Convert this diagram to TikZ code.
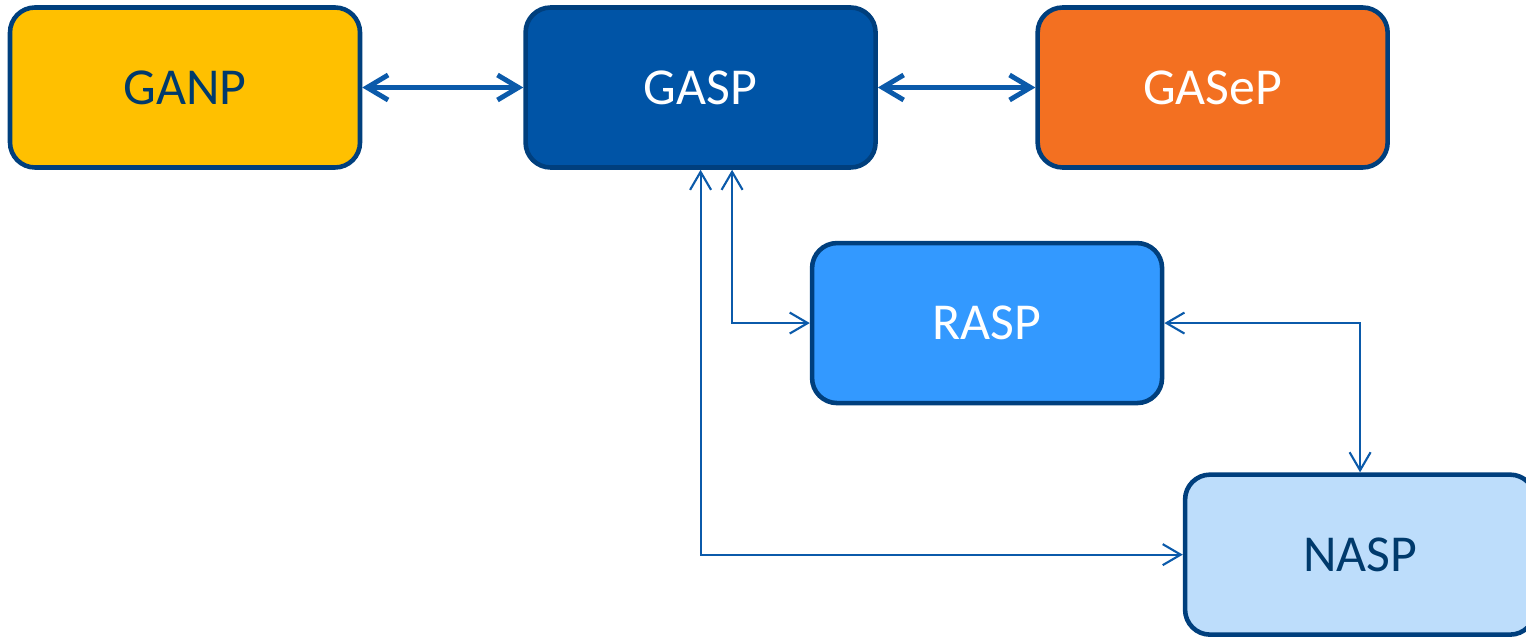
\documentclass[tikz,border=0pt]{standalone}
\usepackage{fontspec}
\setmainfont{Carlito}
\usepackage{xcolor}
\usepackage{tikz}
\usetikzlibrary{arrows.meta, positioning}
\definecolor{ganp_c}{RGB}{255, 192, 0}
\definecolor{gasp_c}{RGB}{0, 84, 166}
\definecolor{gasep_c}{RGB}{243, 112, 33}
\definecolor{rasp_c}{RGB}{51, 153, 255}
\definecolor{nasp_c}{RGB}{189, 221, 251}
\definecolor{edge_c}{RGB}{0, 63, 125}
\definecolor{link_c}{RGB}{11, 90, 170}
\definecolor{txt_c}{RGB}{0, 58, 108}
\tikzstyle{module} = [rectangle, rounded corners=0.5cm, minimum width=7cm, minimum height=3.2cm, text centered, draw=edge_c, line width=2.6pt, font=\fontsize{29.5}{35}\selectfont]
\tikzstyle{arrow} = [draw=link_c, line width=2.8pt, {Straight Barb[length=0.42cm, width=0.5cm]}-{Straight Barb[length=0.42cm, width=0.5cm]}]
\tikzstyle{link} = [draw=link_c, line width=1.2pt, {Straight Barb[length=0.36cm, width=0.42cm]}-{Straight Barb[length=0.36cm, width=0.42cm]}]

\begin{document}
\begin{tikzpicture}

\useasboundingbox (0,0) rectangle (30.52,-12.74);

% Top row
\node[module, fill=ganp_c, text=txt_c] (ganp) at (3.7,-1.75) {GANP};
\node[module, right=3.22cm of ganp, fill=gasp_c, text=white] (gasp) {GASP};
\node[module, right=3.15cm of gasp, fill=gasep_c, text=white] (gasep) {GASeP};

% Lower boxes
\node[module, below=1.42cm of gasp, xshift=5.73cm, fill=rasp_c, text=white] (rasp) {RASP};
\node[module, below=1.34cm of rasp, xshift=7.46cm, fill=nasp_c, text=txt_c] (nasp) {NASP};

% Arrows
\draw[arrow] (ganp) -- (gasp);
\draw[arrow] (gasp) -- (gasep);
\draw[link] ([xshift=0.63cm]gasp.south) |- (rasp.west);
\draw[link] (gasp.south) |- (nasp.west);
\draw[link] (rasp.east) -| (nasp.north);

\end{tikzpicture}
\end{document}
